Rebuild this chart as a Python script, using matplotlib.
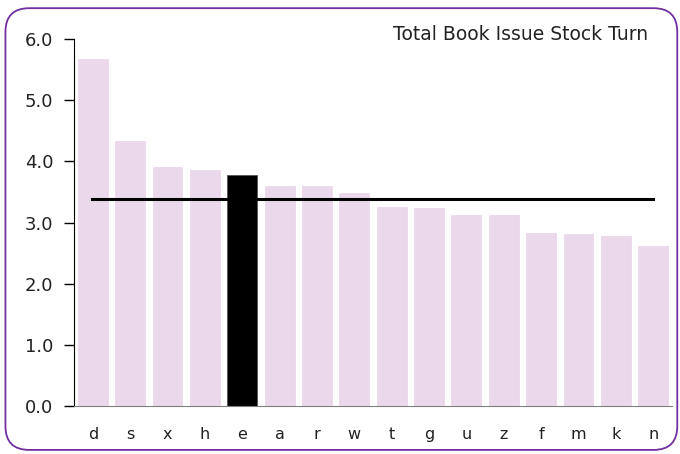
import matplotlib.pyplot as plt
from matplotlib.patches import FancyBboxPatch

branches = ['d', 's', 'x', 'h', 'e', 'a', 'r', 'w', 't', 'g', 'u', 'z', 'f', 'm', 'k', 'n']
stock_turn = [5.67, 4.34, 3.91, 3.86, 3.78, 3.59, 3.59, 3.49, 3.26, 3.24, 3.13, 3.13, 2.83, 2.81, 2.78, 2.61]
average_turn = 3.39
highlight = 'e'

bar_colour = '#ebd9eb'
colours = ['black' if b == highlight else bar_colour for b in branches]

fig = plt.figure(figsize=(6.8, 4.54), dpi=100)

# rounded purple frame around the whole chart
frame = FancyBboxPatch((0.008, 0.009), 0.988, 0.973, boxstyle='round,pad=0,rounding_size=0.035',
                       transform=fig.transFigure, facecolor='none', edgecolor='#7030a0',
                       linewidth=1.3, mutation_aspect=680 / 454, zorder=5)
fig.patches.append(frame)

ax = fig.add_axes([0.109, 0.1064, 0.879, 0.807])
ax.patch.set_alpha(0)
x = range(len(branches))
ax.bar(x, stock_turn, width=0.8, color=colours, edgecolor=['#555555' if b == highlight else bar_colour for b in branches],
       linewidth=0.6, zorder=2)
ax.plot([-0.03, 15.0], [average_turn, average_turn], color='black', linewidth=2.2, zorder=3)

ax.set_xlim(-0.5, 15.5)
ax.set_ylim(0, 6)
ax.set_yticks([0, 1, 2, 3, 4, 5, 6])
ax.set_yticklabels([f'{v:.1f}' for v in range(7)], fontsize=13, color='#222222')
ax.set_xticks(list(x))
ax.set_xticklabels(branches, fontsize=11.5, color='#222222')
ax.tick_params(axis='x', length=0, pad=15)
ax.tick_params(axis='y', length=7, width=1, pad=8, direction='out')

for side in ['top', 'right']:
    ax.spines[side].set_visible(False)
ax.spines['left'].set_color('black')
ax.spines['bottom'].set_color('#808080')

fig.text(0.953, 0.923, 'Total Book Issue Stock Turn', ha='right', va='center',
         fontsize=13.5, color='#222222')

fig.savefig('out.png', dpi=100)
